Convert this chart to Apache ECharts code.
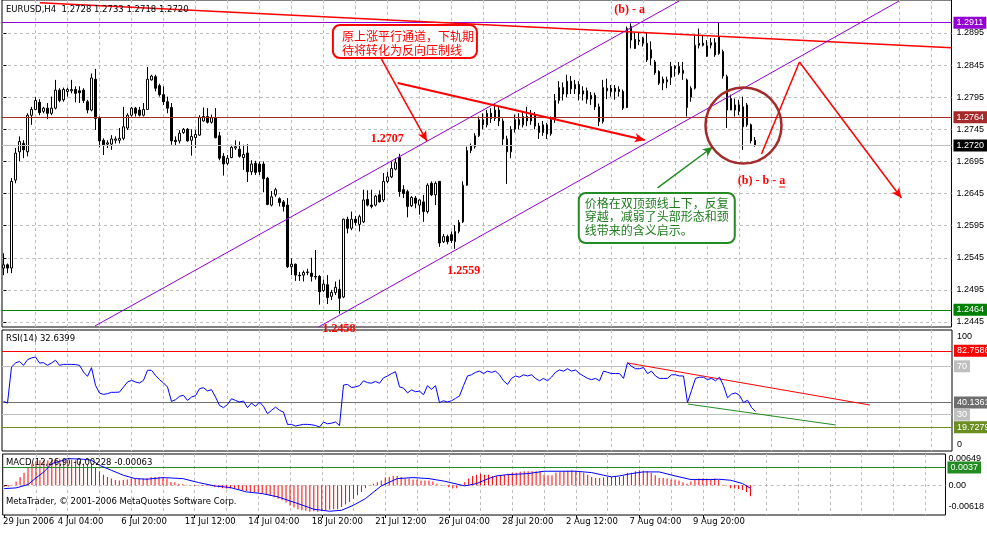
<!DOCTYPE html>
<html><head><meta charset="utf-8">
<script src="https://cdn.jsdelivr.net/npm/echarts@6/dist/echarts.min.js"></script>
<style>html,body{margin:0;padding:0;background:#fff;}#c{width:987px;height:552px;}</style>
</head><body><div id="c"></div>
<script>
// ---------- DATA ----------
const opens = [1.2529,1.2534,1.2529,1.2666,1.2710,1.2723,1.2710,1.2767,1.2776,1.2787,1.2773,1.2778,1.2770,1.2778,1.2806,1.2791,1.2804,1.2805,1.2807,1.2805,1.2806,1.2788,1.2775,1.2823,1.2762,1.2728,1.2722,1.2722,1.2728,1.2728,1.2731,1.2747,1.2767,1.2778,1.2775,1.2767,1.2776,1.2822,1.2827,1.2813,1.2799,1.2788,1.2779,1.2728,1.2727,1.2740,1.2745,1.2728,1.2732,1.2736,1.2758,1.2765,1.2756,1.2763,1.2735,1.2703,1.2692,1.2701,1.2716,1.2714,1.2701,1.2708,1.2679,1.2692,1.2691,1.2691,1.2669,1.2627,1.2643,1.2637,1.2632,1.2627,1.2531,1.2535,1.2518,1.2518,1.2522,1.2521,1.2516,1.2516,1.2494,1.2503,1.2485,1.2491,1.2496,1.2484,1.2605,1.2591,1.2605,1.2597,1.2601,1.2636,1.2627,1.2627,1.2643,1.2635,1.2664,1.2671,1.2683,1.2701,1.2651,1.2648,1.2626,1.2638,1.2627,1.2632,1.2617,1.2661,1.2643,1.2664,1.2570,1.2578,1.2581,1.2570,1.2586,1.2601,1.2658,1.2712,1.2718,1.2735,1.2760,1.2752,1.2770,1.2762,1.2775,1.2758,1.2730,1.2710,1.2745,1.2760,1.2752,1.2765,1.2758,1.2768,1.2750,1.2740,1.2752,1.2738,1.2760,1.2790,1.2810,1.2800,1.2820,1.2808,1.2815,1.2800,1.2805,1.2792,1.2798,1.2780,1.2757,1.2809,1.2809,1.2809,1.2807,1.2804,1.2779,1.2905,1.2885,1.2882,1.2879,1.2879,1.2856,1.2850,1.2835,1.2823,1.2819,1.2826,1.2840,1.2843,1.2832,1.2822,1.2795,1.2809,1.2876,1.2879,1.2875,1.2876,1.2880,1.2863,1.2866,1.2827,1.2775,1.2775,1.2783,1.2780,1.2783,1.2752,1.2728];
const closes = [1.2534,1.2529,1.2664,1.2708,1.2726,1.2713,1.2767,1.2776,1.2790,1.2771,1.2778,1.2770,1.2778,1.2806,1.2790,1.2807,1.2807,1.2807,1.2801,1.2802,1.2790,1.2775,1.2825,1.2762,1.2727,1.2721,1.2724,1.2730,1.2730,1.2731,1.2749,1.2767,1.2778,1.2770,1.2767,1.2776,1.2823,1.2828,1.2809,1.2799,1.2788,1.2778,1.2727,1.2726,1.2739,1.2745,1.2727,1.2734,1.2737,1.2763,1.2765,1.2756,1.2763,1.2732,1.2700,1.2691,1.2700,1.2717,1.2718,1.2703,1.2706,1.2679,1.2691,1.2678,1.2679,1.2668,1.2628,1.2640,1.2651,1.2631,1.2625,1.2531,1.2535,1.2518,1.2517,1.2522,1.2523,1.2516,1.2515,1.2492,1.2504,1.2483,1.2491,1.2499,1.2482,1.2605,1.2591,1.2605,1.2600,1.2609,1.2635,1.2627,1.2625,1.2641,1.2632,1.2664,1.2671,1.2684,1.2693,1.2648,1.2645,1.2625,1.2639,1.2630,1.2635,1.2617,1.2658,1.2643,1.2661,1.2568,1.2578,1.2570,1.2572,1.2586,1.2600,1.2658,1.2712,1.2719,1.2735,1.2760,1.2752,1.2770,1.2762,1.2775,1.2758,1.2730,1.2710,1.2745,1.2760,1.2752,1.2765,1.2758,1.2768,1.2750,1.2740,1.2752,1.2738,1.2760,1.2790,1.2810,1.2800,1.2820,1.2808,1.2815,1.2800,1.2805,1.2792,1.2798,1.2780,1.2757,1.2810,1.2805,1.2804,1.2804,1.2804,1.2778,1.2902,1.2884,1.2871,1.2884,1.2887,1.2853,1.2869,1.2833,1.2817,1.2817,1.2822,1.2843,1.2843,1.2833,1.2837,1.2779,1.2809,1.2876,1.2879,1.2876,1.2859,1.2880,1.2861,1.2889,1.2828,1.2775,1.2793,1.2783,1.2773,1.2749,1.2752,1.2727,1.2720];
const lows = [1.2518,1.2521,1.2521,1.2661,1.2695,1.2700,1.2703,1.2752,1.2775,1.2767,1.2770,1.2761,1.2767,1.2776,1.2787,1.2788,1.2796,1.2801,1.2787,1.2786,1.2786,1.2770,1.2773,1.2744,1.2717,1.2705,1.2716,1.2713,1.2723,1.2723,1.2728,1.2744,1.2765,1.2765,1.2765,1.2765,1.2775,1.2821,1.2804,1.2796,1.2783,1.2770,1.2721,1.2719,1.2723,1.2738,1.2726,1.2704,1.2716,1.2735,1.2757,1.2754,1.2754,1.2731,1.2697,1.2673,1.2689,1.2700,1.2713,1.2701,1.2682,1.2663,1.2674,1.2674,1.2674,1.2647,1.2627,1.2625,1.2640,1.2625,1.2617,1.2529,1.2518,1.2509,1.2509,1.2508,1.2518,1.2508,1.2511,1.2472,1.2492,1.2473,1.2479,1.2487,1.2458,1.2482,1.2583,1.2588,1.2595,1.2586,1.2599,1.2625,1.2622,1.2625,1.2631,1.2632,1.2661,1.2669,1.2681,1.2640,1.2638,1.2608,1.2624,1.2622,1.2612,1.2601,1.2614,1.2641,1.2627,1.2562,1.2568,1.2566,1.2568,1.2559,1.2583,1.2599,1.2657,1.2708,1.2715,1.2733,1.2745,1.2748,1.2755,1.2758,1.2750,1.2720,1.2660,1.2700,1.2740,1.2745,1.2748,1.2750,1.2752,1.2745,1.2730,1.2735,1.2730,1.2735,1.2755,1.2785,1.2790,1.2795,1.2800,1.2800,1.2790,1.2790,1.2785,1.2783,1.2775,1.2750,1.2754,1.2792,1.2796,1.2791,1.2796,1.2775,1.2778,1.2871,1.2870,1.2876,1.2874,1.2850,1.2845,1.2830,1.2814,1.2806,1.2809,1.2814,1.2827,1.2830,1.2822,1.2765,1.2788,1.2807,1.2871,1.2874,1.2858,1.2871,1.2858,1.2861,1.2824,1.2747,1.2775,1.2765,1.2767,1.2713,1.2749,1.2723,1.2718];
const highs = [1.2552,1.2536,1.2669,1.2716,1.2734,1.2728,1.2770,1.2780,1.2795,1.2792,1.2780,1.2786,1.2796,1.2822,1.2809,1.2810,1.2810,1.2822,1.2812,1.2812,1.2809,1.2791,1.2832,1.2839,1.2765,1.2731,1.2728,1.2736,1.2734,1.2747,1.2780,1.2770,1.2780,1.2780,1.2780,1.2786,1.2842,1.2830,1.2830,1.2816,1.2812,1.2796,1.2786,1.2734,1.2744,1.2747,1.2747,1.2745,1.2744,1.2767,1.2779,1.2778,1.2768,1.2778,1.2741,1.2708,1.2705,1.2721,1.2728,1.2726,1.2721,1.2722,1.2697,1.2696,1.2695,1.2695,1.2671,1.2649,1.2654,1.2639,1.2635,1.2638,1.2544,1.2536,1.2523,1.2525,1.2528,1.2545,1.2557,1.2518,1.2511,1.2518,1.2495,1.2508,1.2511,1.2606,1.2609,1.2617,1.2610,1.2612,1.2651,1.2650,1.2651,1.2643,1.2650,1.2677,1.2679,1.2695,1.2700,1.2707,1.2658,1.2651,1.2641,1.2641,1.2636,1.2643,1.2661,1.2664,1.2664,1.2664,1.2582,1.2581,1.2586,1.2596,1.2604,1.2664,1.2718,1.2723,1.2739,1.2765,1.2770,1.2775,1.2778,1.2785,1.2780,1.2762,1.2735,1.2750,1.2768,1.2770,1.2772,1.2780,1.2775,1.2772,1.2755,1.2758,1.2755,1.2765,1.2800,1.2820,1.2818,1.2830,1.2828,1.2822,1.2820,1.2812,1.2810,1.2803,1.2802,1.2785,1.2822,1.2824,1.2814,1.2814,1.2812,1.2807,1.2905,1.2910,1.2895,1.2895,1.2889,1.2895,1.2882,1.2853,1.2837,1.2827,1.2827,1.2850,1.2845,1.2850,1.2850,1.2824,1.2812,1.2892,1.2902,1.2892,1.2884,1.2887,1.2887,1.2911,1.2869,1.2830,1.2799,1.2793,1.2791,1.2796,1.2786,1.2754,1.2733];
const rsi = [41.0,39.6,69.4,72.7,74.0,70.8,75.5,76.9,77.7,72.7,73.0,70.8,72.7,75.0,70.8,71.6,71.6,71.6,71.4,70.8,65.3,61.7,68.9,54.3,47.9,46.8,47.4,48.5,48.5,48.7,52.9,57.0,58.4,57.0,56.2,58.4,66.7,66.7,62.5,59.0,56.2,52.9,41.0,42.4,45.2,46.0,41.8,44.6,45.7,51.5,52.3,49.6,50.7,44.6,37.7,35.8,38.5,43.2,41.8,40.5,41.3,35.8,39.6,36.9,40.5,36.9,30.8,33.6,36.3,33.6,32.2,22.0,22.0,20.6,21.4,22.0,22.0,21.7,21.1,19.8,23.9,22.5,23.0,24.0,21.0,54.5,55.0,52.5,53.0,54.0,58.0,56.5,56.0,57.5,56.0,60.5,62.0,64.0,65.5,53.0,52.0,48.0,50.5,49.0,49.5,46.5,54.0,51.0,54.0,40.0,41.5,40.5,41.5,43.5,45.5,54.0,62.0,63.0,65.0,66.0,64.0,66.0,65.0,66.0,63.0,58.0,55.0,60.0,62.0,61.0,63.0,62.0,63.0,60.0,58.0,60.0,58.0,61.0,65.0,67.0,66.0,68.0,66.0,67.0,64.0,62.0,60.0,59.0,60.0,58.0,66.0,65.0,64.0,64.0,64.0,60.0,73.0,70.0,68.0,68.0,69.0,64.0,66.0,62.0,60.0,60.0,60.0,63.0,63.0,62.0,62.0,40.0,50.0,60.0,61.0,61.0,59.0,60.0,58.0,61.0,54.0,44.0,47.0,48.0,46.0,40.0,42.0,36.0,32.64];
const macdMain = [-0.0003,-0.0003,0.0001,0.0008,0.0017,0.0026,0.0038,0.0045,0.0050,0.0052,0.0052,0.0052,0.0054,0.0055,0.0054,0.0054,0.0053,0.0053,0.0052,0.0050,0.0045,0.0042,0.0045,0.0036,0.0029,0.0022,0.0017,0.0014,0.0011,0.0010,0.0011,0.0012,0.0014,0.0014,0.0014,0.0014,0.0015,0.0017,0.0017,0.0017,0.0016,0.0014,0.0007,0.0006,0.0003,0.0002,0.0001,0.0000,-0.0001,-0.0001,-0.0001,-0.0001,-0.0001,-0.0003,-0.0004,-0.0006,-0.0007,-0.0007,-0.0007,-0.0008,-0.0010,-0.0012,-0.0014,-0.0014,-0.0015,-0.0017,-0.0019,-0.0022,-0.0025,-0.0028,-0.0031,-0.0036,-0.0042,-0.0046,-0.0050,-0.0052,-0.0053,-0.0055,-0.0054,-0.0055,-0.0054,-0.0052,-0.0051,-0.0050,-0.0050,-0.0045,-0.0040,-0.0035,-0.0028,-0.0021,-0.0014,-0.0006,0.0000,0.0003,0.0006,0.0010,0.0016,0.0017,0.0019,0.0019,0.0017,0.0014,0.0014,0.0012,0.0012,0.0010,0.0010,0.0010,0.0008,0.0003,0.0001,-0.0001,-0.0004,-0.0007,-0.0006,-0.0001,0.0006,0.0014,0.0019,0.0022,0.0024,0.0022,0.0022,0.0019,0.0019,0.0021,0.0022,0.0024,0.0026,0.0026,0.0028,0.0029,0.0029,0.0029,0.0029,0.0029,0.0022,0.0021,0.0021,0.0026,0.0028,0.0029,0.0030,0.0031,0.0030,0.0028,0.0026,0.0022,0.0017,0.0015,0.0015,0.0016,0.0017,0.0017,0.0019,0.0017,0.0019,0.0026,0.0026,0.0029,0.0031,0.0030,0.0029,0.0026,0.0021,0.0015,0.0015,0.0014,0.0012,0.0012,0.0010,0.0006,0.0003,0.0008,0.0012,0.0014,0.0014,0.0014,0.0012,0.0014,0.0011,0.0001,-0.0001,-0.0006,-0.0007,-0.0008,-0.0010,-0.0014,-0.00228];
// signal line read at sampled bars: [bar index, value]
const macdSignal = [[0,-0.0007],[3,-0.00055],[6,0.00014],[8,0.00152],[10,0.00277],[12,0.0045],[15,0.00519],[16,0.00554],[20,0.0054],[22,0.00519],[24,0.00415],[27,0.00311],[30,0.00208],[33,0.00138],[36,0.00125],[40,0.00159],[45,0.00138],[49,0.00055],[53,-0.00014],[57,-0.00048],[61,-0.00138],[65,-0.00173],[69,-0.00242],[74,-0.00381],[78,-0.00498],[82,-0.0054],[85,-0.00519],[88,-0.00415],[91,-0.00277],[95,-0.00014],[99,0.00138],[103,0.00159],[107,0.00138],[111,0.00083],[116,-0.00014],[119,0.00035],[122,0.00138],[124,0.00194],[127,0.00221],[132,0.00242],[136,0.00291],[140,0.00291],[144,0.00291],[148,0.00263],[151,0.00208],[153,0.00173],[155,0.00194],[158,0.00242],[161,0.00277],[165,0.00277],[169,0.00194],[173,0.00118],[178,0.00118],[180,0.00125],[183,0.00104],[186,0.00035],[188,-0.00063]];
const priceTicks = [1.2445,1.2495,1.2545,1.2595,1.2645,1.2695,1.2745,1.2795,1.2845,1.2895];
const xTickLabels = ['29 Jun 2006','4 Jul 04:00','6 Jul 20:00','11 Jul 12:00','14 Jul 04:00','18 Jul 20:00','21 Jul 12:00','26 Jul 04:00','28 Jul 20:00','2 Aug 12:00','7 Aug 04:00','9 Aug 20:00'];
const xTickBars = [0,16,32,48,64,80,96,112,128,144,160,176];
const mainLevels = [1.2911,1.2764,1.2720,1.2464];
const rsiLevels = [82.7586,70,40.1361,30,19.7279];
const macdLevels = [0.0037];
const rsiAxisLabels = ['100','0'];
const macdAxisLabels = ['0.00649','0.00','-0.00618'];
const titleText = 'EURUSD,H4  1.2728 1.2733 1.2718 1.2720';
const rsiText = 'RSI(14) 32.6399';
const macdText = 'MACD(12,26,9) -0.00228 -0.00063';
const copyText = 'MetaTrader, © 2001-2006 MetaQuotes Software Corp.';
const note1 = ['原上涨平行通道，下轨期','待将转化为反向压制线'];
const note2 = ['价格在双顶颈线上下，反复','穿越，减弱了头部形态和颈','线带来的含义启示。'];
const waveLabels = ['1.2707','1.2559','1.2458','(b) - a','(b) - b - a'];

// ---------- CHART ----------
const XMIN = -0.375, XMAX = 237.125;
const FONT = 'Liberation Sans';
const TFONT = 'DejaVu Sans';
const gridJs = []; for (let k = 8; k < 237; k += 8) gridJs.push(k);
const labelPos = xTickBars.map((b, k) => k === 0 ? -0.3 : b - 2.5);
const dash = {color: '#c0c0c0', type: [3, 3], width: 1};

function hx(grid, pos) {
  return {type: 'value', gridIndex: grid, min: XMIN, max: XMAX, position: pos || 'bottom',
    axisLine: {show: false}, axisTick: {show: false, customValues: gridJs},
    axisLabel: {show: false}, splitLine: {show: true, lineStyle: dash}};
}
function lvl(v, txt, lineColor, boxColor, txtColor) {
  return {yAxis: v, lineStyle: {color: lineColor, width: 1, type: 'solid'},
    label: {show: true, position: 'end', distance: 2, formatter: txt, backgroundColor: boxColor,
      color: txtColor || '#fff', padding: [2, 3, 1, 3], fontSize: 9, fontFamily: FONT}};
}
function seg(a, b, color, width, arrow) {
  return [{coord: a, symbol: 'none', lineStyle: {color: color, width: width, type: 'solid'}},
          {coord: b, symbol: arrow ? 'arrow' : 'none', symbolSize: [7, 10]}];
}
function ml(data, z) {
  return {silent: true, precision: 6, symbol: ['none', 'none'], animation: false, label: {show: false}, z: z || 3, data: data};
}

const chart = echarts.init(document.getElementById('c'), null, {renderer: 'canvas'});
const txtStyle = {fontSize: 8.5, fontWeight: 'normal', color: '#000', fontFamily: TFONT};

const option = {
  animation: false,
  backgroundColor: '#fff',
  textStyle: {fontFamily: FONT},
  title: [
    {text: titleText, left: 6, top: 5, padding: 0, textStyle: txtStyle},
    {text: rsiText, left: 6, top: 334, padding: 0, textStyle: txtStyle},
    {text: macdText, left: 6, top: 458, padding: 0, textStyle: txtStyle},
    {text: copyText, left: 6, top: 497, padding: 0, textStyle: txtStyle}
  ],
  grid: [
    {left: 2, top: 0, width: 950, height: 327, show: true, borderColor: '#000', borderWidth: 1, backgroundColor: '#fff'},
    {left: 2, top: 330, width: 950, height: 121, show: true, borderColor: '#000', borderWidth: 1, backgroundColor: '#fff'},
    {left: 2, top: 454, width: 950, height: 61, show: true, borderColor: '#000', borderWidth: 1, backgroundColor: '#fff'}
  ],
  xAxis: [
    hx(0), hx(1), hx(2, 'top'),
    {type: 'value', gridIndex: 2, min: XMIN, max: XMAX, position: 'bottom',
      axisLine: {show: false},
      axisTick: {show: true, length: 3, customValues: xTickBars, lineStyle: {color: '#000'}},
      axisLabel: {show: true, customValues: labelPos, align: 'left', margin: 2, fontSize: 8.5, color: '#000', fontFamily: TFONT,
        formatter: v => xTickLabels[Math.round((v + 2.5) / 16)]},
      splitLine: {show: false}}
  ],
  yAxis: [
    {type: 'value', gridIndex: 0, position: 'right', min: 1.24372, max: 1.29464,
      axisLine: {show: false},
      axisTick: {show: true, length: 3, customValues: priceTicks, lineStyle: {color: '#000'}},
      axisLabel: {customValues: priceTicks, formatter: v => v.toFixed(4), margin: 5, fontSize: 9, color: '#000', fontFamily: FONT},
      splitLine: {show: true, lineStyle: dash}},
    {type: 'value', gridIndex: 1, position: 'right', min: 0, max: 100,
      axisLine: {show: false}, axisTick: {show: false},
      axisLabel: {customValues: [95, 5.5], formatter: v => v > 50 ? rsiAxisLabels[0] : rsiAxisLabels[1], margin: 5, fontSize: 9, color: '#000', fontFamily: FONT},
      splitLine: {show: false}},
    {type: 'value', gridIndex: 2, position: 'right', min: -0.00618, max: 0.00649,
      axisLine: {show: false},
      axisTick: {show: true, length: 3, customValues: [0], lineStyle: {color: '#000'}},
      axisLabel: {customValues: [0.00545, 0, -0.00452], margin: 3, fontSize: 9, color: '#000', fontFamily: FONT,
        formatter: v => v > 0.001 ? macdAxisLabels[0] : (v < -0.001 ? macdAxisLabels[2] : macdAxisLabels[1])},
      splitLine: {show: true, lineStyle: dash}}
  ],
  series: [
    {type: 'candlestick', xAxisIndex: 0, yAxisIndex: 0, barWidth: 2,
      data: opens.map((o, i) => [i, o, closes[i], lows[i], highs[i]]),
      itemStyle: {color: '#fff', color0: '#000', borderColor: '#000', borderColor0: '#000', borderColorDoji: '#000', borderWidth: 1},
      markLine: ml([
          lvl(mainLevels[0], '1.2911', '#9400D3', '#9400D3'),
          lvl(mainLevels[1], '1.2764', '#A52A2A', '#A52A2A'),
          lvl(mainLevels[2], '1.2720', '#C0C0C0', '#000000'),
          lvl(mainLevels[3], '1.2464', '#008000', '#008000'),
          seg([9.1, 1.2942], [237.1, 1.2872], '#FF0000', 1.5, false),
          seg([22.9, 1.24388], [169.0, 1.29448], '#9400D3', 1, false),
          seg([78.8, 1.24372], [224.0, 1.29448], '#9400D3', 1, false),
          seg([94.55, 1.28545], [105.9, 1.27268], '#FF0000', 1.5, true),
          seg([98.6, 1.28171], [160.4, 1.27284], '#FF0000', 2, true),
          seg([163.6, 1.26537], [177.4, 1.27175], '#228B22', 1.5, true),
          seg([189.6, 1.27066], [199.1, 1.28498], '#FF0000', 1.5, false),
          seg([199.1, 1.28498], [224.6, 1.26381], '#FF0000', 1.5, true)
        ])
    },
    {type: 'line', xAxisIndex: 1, yAxisIndex: 1, data: rsi.map((v, i) => [i, v]), symbol: 'none',
      lineStyle: {color: '#0000FF', width: 1}, z: 4,
      markLine: ml([
          lvl(rsiLevels[0], '82.7586', '#FF0000', '#FF0000'),
          lvl(rsiLevels[1], '70', '#C0C0C0', '#C0C0C0'),
          lvl(rsiLevels[2], '40.1361', '#707070', '#6E6E6E'),
          lvl(rsiLevels[3], '30', '#C0C0C0', '#C0C0C0'),
          lvl(rsiLevels[4], '19.7279', '#6B8E23', '#6B8E23'),
          seg([156.1, 72.7], [216.6, 38.0], '#FF0000', 1, false),
          seg([171.1, 38.8], [208.1, 21.5], '#228B22', 1, false)
        ])
    },
    {type: 'bar', xAxisIndex: 2, yAxisIndex: 2, data: macdMain.map((v, i) => [i, v]), barWidth: 1,
      itemStyle: {color: '#FF0000'},
      markLine: ml([lvl(macdLevels[0], '0.0037', '#228B22', '#228B22')])
    },
    {type: 'line', xAxisIndex: 2, yAxisIndex: 2, data: macdSignal, symbol: 'none',
      lineStyle: {color: '#0000FF', width: 1}, z: 4}
  ]
};
chart.setOption(option);

// ---------- annotations placed through the price scale ----------
const P = (j, p) => chart.convertToPixel({xAxisIndex: 0, yAxisIndex: 0}, [j, p]);
const g = [];
const circ = P(185.1, 1.2751);
g.push({type: 'circle', shape: {cx: circ[0], cy: circ[1], r: 38}, style: {fill: 'none', stroke: '#A52A2A', lineWidth: 2.5}, z: 50});
const b1 = P(82.4, 1.29075);
g.push({type: 'rect', shape: {x: b1[0], y: b1[1], width: 144, height: 33, r: 7}, style: {fill: '#fff', stroke: '#FF0000', lineWidth: 2}, z: 60});
note1.forEach((t, k) => g.push({type: 'text', x: b1[0] + 9, y: b1[1] + 11 + k * 14.5, style: {text: t, fill: '#FF0000', font: '12px "Noto Sans CJK SC"', verticalAlign: 'middle'}, z: 61}));
const b2 = P(143.9, 1.26459);
g.push({type: 'rect', shape: {x: b2[0], y: b2[1], width: 156, height: 50, r: 7}, style: {fill: '#fff', stroke: '#228B22', lineWidth: 2}, z: 60});
note2.forEach((t, k) => g.push({type: 'text', x: b2[0] + 6, y: b2[1] + 10.5 + k * 13.3, style: {text: t, fill: '#1E7B1E', font: '12px "Noto Sans CJK SC"', verticalAlign: 'middle'}, z: 61}));
const wl = [[96.0, 1.27300], [115.1, 1.25252], [83.9, 1.24341], [156.6, 1.29308], [189.6, 1.26645]];
wl.forEach((c, k) => {
  const p = P(c[0], c[1]);
  g.push({type: 'text', x: p[0], y: p[1], style: {text: waveLabels[k], fill: '#FF0000', font: 'bold 12px "Liberation Serif"', align: 'center', verticalAlign: 'middle'}, z: 70});
});
// underline of the last "a"
const last = P(189.6, 1.26645);
const cv = document.createElement('canvas').getContext('2d');
cv.font = 'bold 12px "Liberation Serif"';
const wAll = cv.measureText(waveLabels[4]).width, wA = cv.measureText('a').width;
g.push({type: 'line', shape: {x1: last[0] + wAll / 2 - wA, y1: last[1] + 6, x2: last[0] + wAll / 2, y2: last[1] + 6}, style: {stroke: '#FF0000', lineWidth: 1}, z: 70});
chart.setOption({graphic: g});
</script></body></html>
